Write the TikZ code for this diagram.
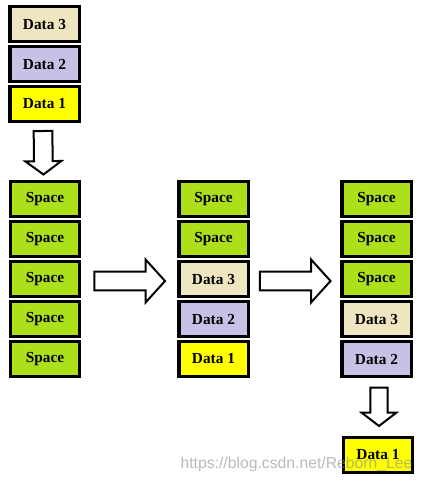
\documentclass[tikz,border=0pt]{standalone}
\usepackage{fontspec}
\setmainfont{Liberation Serif}
\newfontfamily\markfont{Liberation Sans}
\usetikzlibrary{calc}

\definecolor{spacegreen}{RGB}{173,224,27}
\definecolor{datathree}{RGB}{238,230,192}
\definecolor{datatwo}{RGB}{198,194,230}
\definecolor{dataone}{RGB}{255,255,0}

\tikzset{
	cell/.style={draw=black, line width=2.6pt, minimum width=52.1pt, minimum height=25.9pt, inner sep=0pt, font=\fontsize{11.5}{13}\selectfont\bfseries},
	space/.style={cell, fill=spacegreen},
	dthree/.style={cell, fill=datathree},
	dtwo/.style={cell, fill=datatwo},
	done/.style={cell, fill=dataone},
	hollow/.style n args={3}{draw=black, fill=white, line width=1.5pt, to path={
		($(\tikztotarget)!#3!(\tikztostart)$) coordinate (ah)
		($(\tikztostart)!#1!90:(\tikztotarget)$) -- ($(ah)!#1!90:(\tikztotarget)$) -- ($(ah)!#2!90:(\tikztotarget)$) -- (\tikztotarget)
		-- ($(ah)!#2!-90:(\tikztotarget)$) -- ($(ah)!#1!-90:(\tikztotarget)$) -- ($(\tikztostart)!#1!-90:(\tikztotarget)$) -- cycle}}
}

\begin{document}
\begin{tikzpicture}[x=0.75pt, y=-0.75pt]
	\useasboundingbox (0,0) rectangle (423,483);

	\begin{scope}
		\node[dthree] (t3) at (44.5,24) {Data 3};
		\node[dtwo] (t2) at (44.5,64) {Data 2};
		\node[done] (t1) at (44.5,104) {Data 1};
	\end{scope}

	\begin{scope}
		\foreach \i in {1,...,5}
		{
			\node[space] (a\i) at (45,159+40*\i) {Space};
		}

		\foreach \i/\s/\t in {1/space/Space, 2/space/Space, 3/dthree/Data 3, 4/dtwo/Data 2, 5/done/Data 1}
		{
			\node[\s] (b\i) at (213.5,159+40*\i) {\t};
		}

		\foreach \i/\s/\t in {1/space/Space, 2/space/Space, 3/space/Space, 4/dthree/Data 3, 5/dtwo/Data 2}
		{
			\node[\s] (c\i) at (376.5,159+40*\i) {\t};
		}

		\node[done] (d1) at (378,455) {Data 1};
	\end{scope}

	\begin{scope}
		\coordinate (s1) at ($(t1.south)+(-1.5,8)$);
		\coordinate (e1) at ($(a1.north)+(-1.5,-5.5)$);
		\draw[hollow={7pt}{13.5pt}{10pt}] (s1) to (e1);

		\coordinate (s2) at ($(a3.east)+(13,2)$);
		\coordinate (e2) at ($(b3.west)+(-12,2)$);
		\draw[hollow={7pt}{16pt}{14.5pt}] (s2) to (e2);

		\coordinate (s3) at ($(b3.east)+(10,2)$);
		\coordinate (e3) at ($(c3.west)+(-9.5,2)$);
		\draw[hollow={7pt}{16pt}{14.5pt}] (s3) to (e3);

		\coordinate (s4) at ($(c5.south)+(2.5,9.5)$);
		\coordinate (e4) at ($(d1.north)+(1,-10)$);
		\draw[hollow={6.5pt}{13pt}{10pt}] (s4) to (e4);
	\end{scope}

	\node[text=black!45, text opacity=0.6, font=\markfont\fontsize{11.8}{13}\selectfont] (wm) at (296.5,464) {https://blog.csdn.net/Reborn\_Lee};
\end{tikzpicture}
\end{document}
